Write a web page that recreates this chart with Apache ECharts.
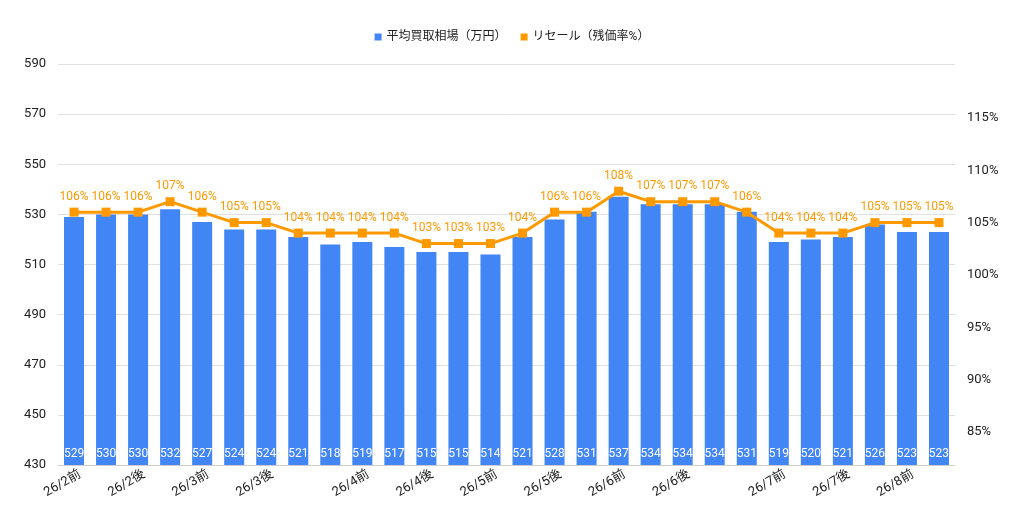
<!DOCTYPE html>
<html>
<head>
<meta charset="utf-8">
<script src="https://cdn.jsdelivr.net/npm/echarts@6/dist/echarts.min.js"></script>
<style>
  html, body { margin: 0; padding: 0; background: #fff; }
  #chart { width: 1024px; height: 521px; }
</style>
</head>
<body>
<div id="chart"></div>
<script>
// 期間ラベル（表示されるのは一部のみ）
var categories = [
    '26/2前', '26/2前', '26/2後', '26/2後', '26/3前', '26/3前', '26/3後',
    '26/3後', '26/3後', '26/4前', '26/4前', '26/4後', '26/4後', '26/5前',
    '26/5前', '26/5後', '26/5後', '26/6前', '26/6前', '26/6後', '26/6後',
    '26/6後', '26/7前', '26/7前', '26/7後', '26/7後', '26/8前', '26/8前'
];
var shownLabels = [0, 2, 4, 6, 9, 11, 13, 15, 17, 19, 22, 24, 26];

// 平均買取相場（万円）
var prices = [
    529, 530, 530, 532, 527, 524, 524, 521, 518, 519, 517, 515, 515, 514,
    521, 528, 531, 537, 534, 534, 534, 531, 519, 520, 521, 526, 523, 523
];

// リセール（残価率%）
var resale = [
    106, 106, 106, 107, 106, 105, 105, 104, 104, 104, 104, 103, 103, 103,
    104, 106, 106, 108, 107, 107, 107, 106, 104, 104, 104, 105, 105, 105
];

var leftTicks = [430, 450, 470, 490, 510, 530, 550, 570, 590];
var rightTicks = [85, 90, 95, 100, 105, 110, 115];

var blue = '#4285F4';
var orange = '#FF9900';
var font = 'Roboto, "Noto Sans CJK JP", sans-serif';

var chart = echarts.init(document.getElementById('chart'));

chart.setOption({
    animation: false,
    textStyle: { fontFamily: font },
    legend: {
        top: 26,
        left: 'center',
        itemWidth: 7,
        itemHeight: 7,
        itemGap: 14,
        textStyle: { fontSize: 12, color: '#222', fontFamily: font },
        data: [
            { name: '平均買取相場（万円）', icon: 'rect' },
            { name: 'リセール（残価率%）', icon: 'rect' }
        ]
    },
    grid: { left: 58, right: 69, top: 64, bottom: 56 },
    xAxis: {
        type: 'category',
        data: categories,
        axisLine: { lineStyle: { color: '#ccc' } },
        axisTick: { show: false },
        axisLabel: {
            interval: function (index) {
                return shownLabels.indexOf(index) >= 0;
            },
            rotate: 30,
            margin: 12,
            padding: [0, -7, 0, 0],
            fontSize: 13,
            color: '#222'
        }
    },
    yAxis: [
        {
            type: 'value',
            min: leftTicks[0],
            max: leftTicks[leftTicks.length - 1],
            interval: 20,
            axisLine: { show: false },
            axisTick: { show: false },
            splitLine: { lineStyle: { color: '#e0e0e0' } },
            axisLabel: { fontSize: 13, color: '#222', margin: 12 }
        },
        {
            type: 'value',
            min: 81.85,
            max: 120.15,
            position: 'right',
            axisLine: { show: false },
            axisTick: { show: false },
            splitLine: { show: false },
            axisLabel: {
                customValues: rightTicks,
                fontSize: 13,
                color: '#222',
                margin: 12,
                formatter: '{value}%'
            }
        }
    ],
    series: [
        {
            name: '平均買取相場（万円）',
            type: 'bar',
            data: prices,
            barWidth: 20,
            itemStyle: { color: blue },
            label: {
                show: true,
                position: 'insideBottom',
                distance: 5,
                color: '#fff',
                fontSize: 12
            }
        },
        {
            name: 'リセール（残価率%）',
            type: 'line',
            yAxisIndex: 1,
            data: resale,
            symbol: 'rect',
            symbolSize: 9,
            lineStyle: { color: orange, width: 3 },
            itemStyle: { color: orange },
            label: {
                show: true,
                position: 'top',
                distance: 5,
                color: orange,
                fontSize: 12,
                formatter: '{c}%'
            },
            z: 3
        }
    ]
});
</script>
</body>
</html>
